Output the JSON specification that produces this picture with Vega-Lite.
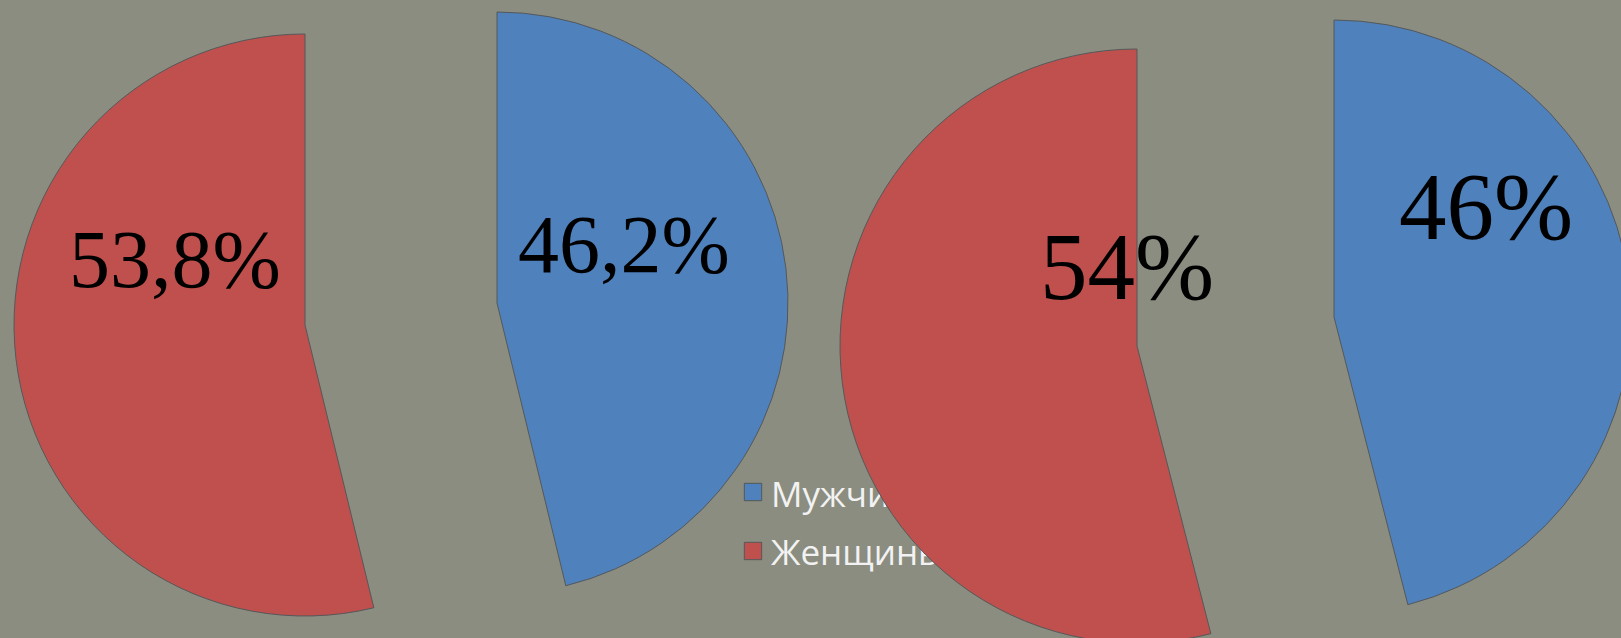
{
  "$schema": "https://vega.github.io/schema/vega-lite/v6.json",
  "width": 1621,
  "height": 638,
  "autosize": {"type": "fit", "contains": "padding"},
  "padding": 0,
  "background": "#8a8d7f",
  "config": {"view": {"stroke": null}},
  "datasets": {
    "shares": [
      {"pie": 1, "sex": "Мужчины", "share": 46.2, "label": "46,2%"},
      {"pie": 1, "sex": "Женщины", "share": 53.8, "label": "53,8%"},
      {"pie": 2, "sex": "Мужчины", "share": 46, "label": "46%"},
      {"pie": 2, "sex": "Женщины", "share": 54, "label": "54%"}
    ]
  },
  "data": {"name": "shares"},
  "transform": [
    {"stack": "share", "groupby": ["pie"], "sort": [{"field": "sex", "order": "descending"}], "as": ["start", "end"]}
  ],
  "layer": [
    {
      "transform": [{"filter": "datum.pie === 1"}],
      "mark": {"type": "arc", "radius": 291, "stroke": "#55585a", "strokeWidth": 1},
      "encoding": {
        "x": {"field": "sex", "type": "nominal", "axis": null, "scale": {"type": "point", "domain": ["Женщины", "Мужчины"], "range": [305, 497], "padding": 0}},
        "y": {"field": "sex", "type": "nominal", "axis": null, "scale": {"type": "point", "domain": ["Женщины", "Мужчины"], "range": [325, 303], "padding": 0}},
        "theta": {"field": "start", "type": "quantitative", "scale": {"domain": [0, 100], "range": [0, 6.283185307179586]}},
        "theta2": {"field": "end"},
        "color": {"field": "sex", "type": "nominal", "legend": null, "scale": {"domain": ["Мужчины", "Женщины"], "range": ["#4f81bd", "#c0504d"]}}
      }
    },
    {
      "transform": [{"filter": "datum.pie === 1"}],
      "mark": {"type": "point", "shape": "square", "size": 300, "filled": true, "stroke": "#55585a", "strokeWidth": 1, "opacity": 1},
      "encoding": {
        "x": {"value": 753},
        "y": {"field": "sex", "type": "nominal", "axis": null, "scale": {"type": "point", "domain": ["Мужчины", "Женщины"], "range": [492, 551], "padding": 0}},
        "color": {"field": "sex", "type": "nominal", "legend": null, "scale": {"domain": ["Мужчины", "Женщины"], "range": ["#4f81bd", "#c0504d"]}}
      }
    },
    {
      "transform": [{"filter": "datum.pie === 1"}],
      "mark": {"type": "text", "align": "left", "baseline": "alphabetic", "font": "Open Sans", "fontSize": 35, "color": "#f2f2f2"},
      "encoding": {
        "x": {"value": 771},
        "y": {"field": "sex", "type": "nominal", "axis": null, "scale": {"type": "point", "domain": ["Мужчины", "Женщины"], "range": [507, 565], "padding": 0}},
        "text": {"field": "sex"}
      }
    },
    {
      "transform": [{"filter": "datum.pie === 2"}],
      "mark": {"type": "arc", "radius": 297, "stroke": "#55585a", "strokeWidth": 1},
      "encoding": {
        "x": {"field": "sex", "type": "nominal", "axis": null, "scale": {"type": "point", "domain": ["Женщины", "Мужчины"], "range": [1137, 1334], "padding": 0}},
        "y": {"field": "sex", "type": "nominal", "axis": null, "scale": {"type": "point", "domain": ["Женщины", "Мужчины"], "range": [346, 317], "padding": 0}},
        "theta": {"field": "start", "type": "quantitative", "scale": {"domain": [0, 100], "range": [0, 6.283185307179586]}},
        "theta2": {"field": "end"},
        "color": {"field": "sex", "type": "nominal", "legend": null, "scale": {"domain": ["Мужчины", "Женщины"], "range": ["#4f81bd", "#c0504d"]}}
      }
    },
    {
      "transform": [{"filter": "datum.pie === 1"}],
      "mark": {"type": "text", "align": "center", "baseline": "alphabetic", "font": "Liberation Serif", "fontSize": 82, "color": "#000000"},
      "encoding": {
        "x": {"field": "sex", "type": "nominal", "axis": null, "scale": {"type": "point", "domain": ["Женщины", "Мужчины"], "range": [175, 624], "padding": 0}},
        "y": {"field": "sex", "type": "nominal", "axis": null, "scale": {"type": "point", "domain": ["Женщины", "Мужчины"], "range": [287, 272], "padding": 0}},
        "text": {"field": "label"}
      }
    },
    {
      "transform": [{"filter": "datum.pie === 2"}],
      "mark": {"type": "text", "align": "center", "baseline": "alphabetic", "font": "Liberation Serif", "fontSize": 95, "color": "#000000"},
      "encoding": {
        "x": {"field": "sex", "type": "nominal", "axis": null, "scale": {"type": "point", "domain": ["Женщины", "Мужчины"], "range": [1127, 1486], "padding": 0}},
        "y": {"field": "sex", "type": "nominal", "axis": null, "scale": {"type": "point", "domain": ["Женщины", "Мужчины"], "range": [299, 239], "padding": 0}},
        "text": {"field": "label"}
      }
    }
  ],
  "resolve": {"scale": {"x": "independent", "y": "independent"}}
}
